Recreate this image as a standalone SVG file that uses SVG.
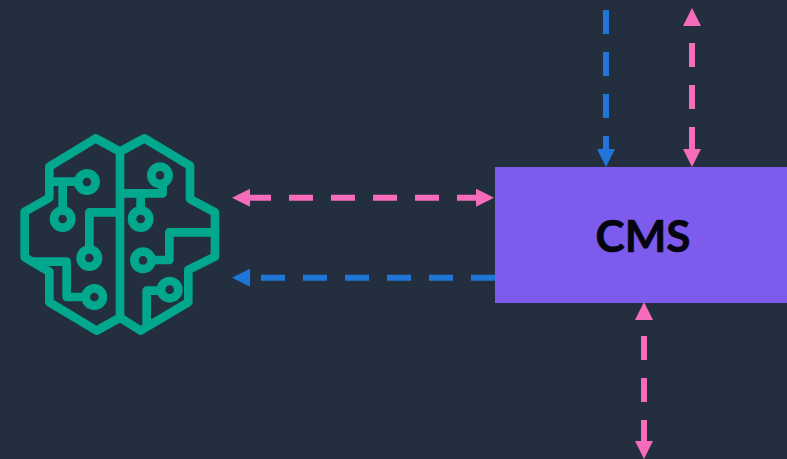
<svg xmlns="http://www.w3.org/2000/svg" width="787" height="459" viewBox="0 0 787 459">
<style>
.c{fill:none;stroke-width:6;stroke-dasharray:24 18}
.p{stroke:#F76BBB}
.b{stroke:#1F75D8}
.g{fill:none;stroke:#01A88D;stroke-width:26;stroke-linejoin:round;stroke-linecap:butt}
.t{font-family:Lato,"Liberation Sans",sans-serif;font-weight:700;font-size:44px;fill:#050510;stroke:#050510;stroke-width:.7px;text-anchor:middle}
</style>
<defs>
<marker id="hp" markerUnits="userSpaceOnUse" viewBox="0 0 18 18" refX="0" refY="9" markerWidth="18" markerHeight="18" orient="auto-start-reverse"><path d="M0 0L18 9L0 18Z" fill="#F76BBB"/></marker>
<marker id="hb" markerUnits="userSpaceOnUse" viewBox="0 0 18 18" refX="0" refY="9" markerWidth="18" markerHeight="18" orient="auto-start-reverse"><path d="M0 0L18 9L0 18Z" fill="#1F75D8"/></marker>
</defs>
<rect width="787" height="459" fill="#232F3E"/>
<g id="brain" transform="translate(10 125) scale(.3333)">
<path class="g" d="M330 80L257 40L118 125V218L44 260V397L118 440V532L260 617L330 578L392 617L535 532V435L615 395V262L540 222V122L403 40L330 80V578"/>
<path class="g" d="M118 170H205M158 170V256M238 373V262H330M60 410H170V516H227"/>
<path class="g" d="M330 205H458V178M392 205V256M615 322H478V405H425M410 605V497H453"/>
<g class="g"><circle cx="231" cy="171" r="26"/><circle cx="158" cy="282" r="26"/><circle cx="238" cy="399" r="26"/><circle cx="253" cy="516" r="26"/><circle cx="450" cy="151" r="26"/><circle cx="392" cy="282" r="26"/><circle cx="399" cy="406" r="26"/><circle cx="479" cy="494" r="26"/></g>
</g>
<g id="cms"><rect x="495" y="167" width="292" height="136" fill="#7D5BEC"/><text class="t" x="643" y="252">CMS</text></g>
<g id="connectors">
<line class="c p" x1="250" y1="197.7" x2="476" y2="197.7" stroke-dashoffset="3" marker-start="url(#hp)" marker-end="url(#hp)"/>
<line class="c b" x1="495" y1="277.7" x2="250" y2="277.7" marker-end="url(#hb)"/>
<line class="c b" x1="606" y1="10" x2="606" y2="149" marker-end="url(#hb)"/>
<line class="c p" x1="692" y1="26" x2="692" y2="149" stroke-dashoffset="25" marker-start="url(#hp)" marker-end="url(#hp)"/>
<line class="c p" x1="644" y1="320" x2="644" y2="441" stroke-dashoffset="26" marker-start="url(#hp)" marker-end="url(#hp)"/>
</g>
</svg>
